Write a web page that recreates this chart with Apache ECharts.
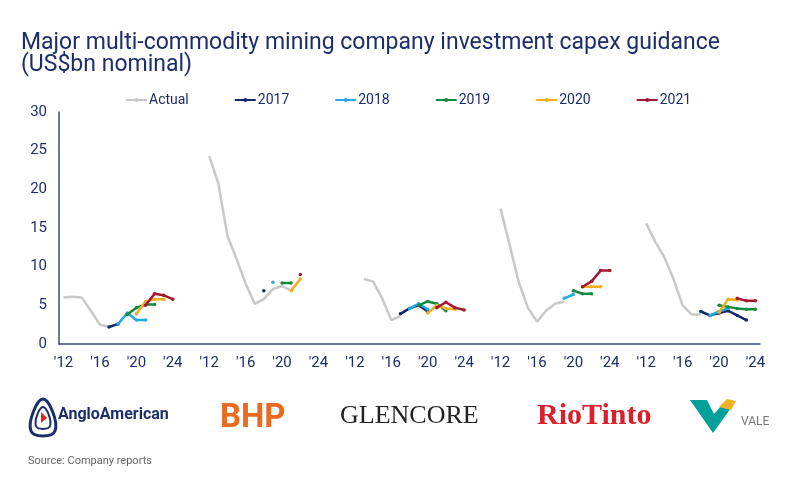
<!DOCTYPE html>
<html><head><meta charset="utf-8">
<script src="https://cdn.jsdelivr.net/npm/echarts@6/dist/echarts.min.js"></script>
<style>html,body{margin:0;padding:0;background:#fff}#c{width:800px;height:480px}</style>
</head><body><div id="c"></div><script>
const _ = null;
const years = [2012,2013,2014,2015,2016,2017,2018,2019,2020,2021,2022,2023,2024];
const tickYears = [2012,2016,2020,2024];
const companies = ['Anglo American','BHP','Glencore','Rio Tinto','Vale'];
const gapSlots = 3;
const seriesNames = ['Actual','2017','2018','2019','2020','2021'];
const seriesColors = ['#c8c8c8','#13286b','#25a9e0','#148a3f','#f2ad1c','#a3172f'];

// values for 2012 .. 2024
const angloActual = [6.0,6.1,6.0,4.3,2.5,2.2,_,_,_,_,_,_,_];
const anglo2017   = [_,_,_,_,_,2.2,2.6,_,_,_,_,_,_];
const anglo2018   = [_,_,_,_,_,_,2.6,4.0,3.1,3.1,_,_,_];
const anglo2019   = [_,_,_,_,_,_,_,3.8,4.7,5.1,5.1,_,_];
const anglo2020   = [_,_,_,_,_,_,_,_,3.9,5.5,5.8,5.8,_];
const anglo2021   = [_,_,_,_,_,_,_,_,_,5.0,6.5,6.3,5.8];

const bhpActual = [24.3,20.8,14.0,11.0,7.8,5.2,5.8,7.1,7.5,6.9,_,_,_];
const bhp2017   = [_,_,_,_,_,_,6.9,_,_,_,_,_,_];
const bhp2018   = [_,_,_,_,_,_,_,8.0,_,_,_,_,_];
const bhp2019   = [_,_,_,_,_,_,_,_,7.9,7.9,_,_,_];
const bhp2020   = [_,_,_,_,_,_,_,_,_,6.9,8.4,_,_];
const bhp2021   = [_,_,_,_,_,_,_,_,_,_,9.0,_,_];

const glenActual = [_,8.4,8.1,5.9,3.1,3.6,_,_,_,_,_,_,_];
const glen2017   = [_,_,_,_,_,3.9,4.6,5.0,4.2,_,_,_,_];
const glen2018   = [_,_,_,_,_,_,4.6,5.2,4.5,_,_,_,_];
const glen2019   = [_,_,_,_,_,_,_,5.0,5.5,5.2,4.3,_,_];
const glen2020   = [_,_,_,_,_,_,_,_,4.0,5.0,4.6,4.5,_];
const glen2021   = [_,_,_,_,_,_,_,_,_,4.7,5.4,4.7,4.4];

const rioActual = [17.5,12.8,8.0,4.7,2.9,4.3,5.2,5.5,_,_,_,_,_];
const rio2017   = [_,_,_,_,_,_,_,_,_,_,_,_,_];
const rio2018   = [_,_,_,_,_,_,_,5.9,6.4,_,_,_,_];
const rio2019   = [_,_,_,_,_,_,_,_,6.9,6.5,6.5,_,_];
const rio2020   = [_,_,_,_,_,_,_,_,_,7.4,7.4,7.4,_];
const rio2021   = [_,_,_,_,_,_,_,_,_,7.4,8.1,9.5,9.5];

const valeActual = [15.6,13.2,11.2,8.4,5.0,3.8,3.8,_,_,_,_,_,_];
const vale2017   = [_,_,_,_,_,_,4.2,3.7,4.0,4.3,3.7,3.1,_];
const vale2018   = [_,_,_,_,_,_,_,3.7,4.2,4.6,_,_,_];
const vale2019   = [_,_,_,_,_,_,_,_,5.0,4.8,4.6,4.5,4.5];
const vale2020   = [_,_,_,_,_,_,_,_,4.1,5.8,5.7,_,_];
const vale2021   = [_,_,_,_,_,_,_,_,_,_,5.9,5.6,5.6];

const bySeries = [
  [angloActual,bhpActual,glenActual,rioActual,valeActual],
  [anglo2017,bhp2017,glen2017,rio2017,vale2017],
  [anglo2018,bhp2018,glen2018,rio2018,vale2018],
  [anglo2019,bhp2019,glen2019,rio2019,vale2019],
  [anglo2020,bhp2020,glen2020,rio2020,vale2020],
  [anglo2021,bhp2021,glen2021,rio2021,vale2021]
];

const categories = [];
companies.forEach((c, p) => {
  years.forEach(y => categories.push(c + '|' + y));
  if (p < companies.length - 1) for (let g = 0; g < gapSlots; g++) categories.push(c + '|gap' + g);
});
function flatten(arrs) {
  const out = [];
  arrs.forEach((a, p) => {
    a.forEach(v => out.push(v));
    if (p < arrs.length - 1) for (let g = 0; g < gapSlots; g++) out.push(null);
  });
  return out;
}

const navy = '#1c2d6b';
const series = seriesNames.map((name, i) => ({
  name: name,
  type: 'line',
  data: flatten(bySeries[i]),
  connectNulls: false,
  symbol: i === 0 ? 'none' : 'circle',
  symbolSize: 3.5,
  showSymbol: i !== 0,
  showAllSymbol: true,
  lineStyle: { width: 2.5, color: seriesColors[i] },
  itemStyle: { color: seriesColors[i] },
  emphasis: { disabled: true },
  z: 2 + i
}));

const chart = echarts.init(document.getElementById('c'));
chart.setOption({
  animation: false,
  color: seriesColors,
  title: {
    text: 'Major multi-commodity mining company investment capex guidance\n(US$bn nominal)',
    left: 16, top: 27,
    textStyle: { fontFamily: 'Roboto', fontSize: 23, fontWeight: 'normal', color: navy, lineHeight: 22 }
  },
  legend: {
    left: 120, top: 88,
    itemWidth: 21, itemHeight: 5, itemGap: 45,
    textStyle: { fontFamily: 'Roboto', fontSize: 14, color: navy, padding: [0, 0, 0, -3] },
    data: seriesNames
  },
  grid: { left: 59, right: 40, top: 112, bottom: 136 },
  xAxis: {
    type: 'category',
    data: categories,
    boundaryGap: true,
    axisLine: { lineStyle: { color: '#3a4a75', width: 1.5 } },
    axisTick: { show: false },
    axisLabel: {
      interval: 0, margin: 12,
      fontFamily: 'Roboto', fontSize: 15, color: navy,
      formatter: v => {
        const y = Number(v.split('|')[1]);
        return tickYears.includes(y) ? "'" + String(y).slice(2) : '';
      }
    },
    splitLine: { show: false }
  },
  yAxis: {
    type: 'value', min: 0, max: 30, interval: 5,
    axisLine: { show: true, lineStyle: { color: '#3a4a75', width: 1.5 } },
    axisTick: { show: false },
    axisLabel: { margin: 12, fontFamily: 'Roboto', fontSize: 15, color: navy },
    splitLine: { show: false }
  },
  graphic: [
    // Anglo American mark
    { type: 'polygon', shape: { points: [[43,399],[55,431],[31,431]], smooth: 0.5 }, style: { fill: 'none', stroke: navy, lineWidth: 3 } },
    { type: 'polygon', shape: { points: [[43,407],[50,426],[36,426]], smooth: 0.5 }, style: { fill: 'none', stroke: navy, lineWidth: 2 } },
    { type: 'polygon', shape: { points: [[41,412],[47,418],[41,423]] }, style: { fill: '#e1251b' } },
    { type: 'text', left: 58, top: 407, style: { text: 'AngloAmerican', font: 'bold 16px Roboto', fill: navy } },
    { type: 'text', left: 220, top: 402, style: { text: 'BHP', font: 'bold 33px Roboto', fill: '#ea6a1f' } },
    { type: 'text', left: 340, top: 403, style: { text: 'GLENCORE', font: '26px "Liberation Serif"', fill: '#231f20' } },
    { type: 'text', left: 537, top: 401, style: { text: 'RioTinto', font: 'bold 30px "Liberation Serif"', fill: '#dc1f2d' } },
    // Vale mark
    { type: 'polygon', shape: { points: [[690,400],[707,400],[714,414],[721,406],[731,408],[713,433]] }, style: { fill: '#00a19a' } },
    { type: 'polygon', shape: { points: [[719,407],[727,399],[736,401],[731,410]] }, style: { fill: '#f2b32b' } },
    { type: 'text', left: 741, top: 416, style: { text: 'VALE', font: '12px Roboto', fill: '#777777' } },
    { type: 'text', left: 28, top: 456, style: { text: 'Source: Company reports', font: '11px Roboto', fill: '#666666' } }
  ],
  series: series
});
</script></body></html>
